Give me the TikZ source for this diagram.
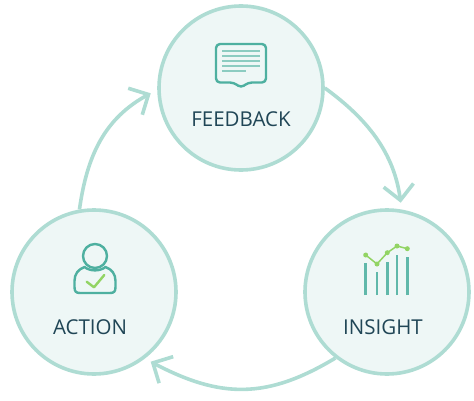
\documentclass[tikz,border=0pt]{standalone}
\usepackage{fontspec}
\setmainfont{Open Sans}
\usetikzlibrary{arrows.meta}
\pgfdeclarearrow{
  name=Vee,
  setup code={\pgfarrowssettipend{2.5pt}\pgfarrowssetlineend{0pt}\pgfarrowssetbackend{-15pt}\pgfarrowssetvisualbackend{0pt}},
  drawing code={\pgfsetdash{}{0pt}\pgfsetmiterjoin\pgfpathmoveto{\pgfqpoint{-15pt}{15pt}}\pgfpathlineto{\pgfpointorigin}\pgfpathlineto{\pgfqpoint{-15pt}{-15pt}}\pgfusepathqstroke}
}

\begin{document}
\begin{tikzpicture}[x=1pt, y=1pt, >=Vee,
  ringnode/.style={circle, draw=ring, fill=disc, line width=3.6pt, minimum size=164pt, inner sep=0pt},
  flow/.style={->, draw=ring, line width=3.6pt},
  head/.style={font=\fontsize{20.5}{22}\selectfont, text=label, inner sep=0pt},
  icon/.style={draw=teal, line width=2.4pt, line join=round, line cap=round},
  rowline/.style={draw=teal!65, line width=2pt},
  barline/.style={draw=teal!90, line width=2.6pt},
  dotmark/.style={circle, fill=leaf, inner sep=0pt, minimum size=5pt}]
\definecolor{ring}{RGB}{174,220,211}\definecolor{disc}{RGB}{238,247,246}
\definecolor{teal}{RGB}{78,176,160}\definecolor{leaf}{RGB}{146,212,100}\definecolor{label}{RGB}{32,70,86}
\useasboundingbox (0,0) rectangle (474,400);
% circles
\node[ringnode] (feedback) at (241,312) {};
\node[ringnode] (insight) at (387,108) {};
\node[ringnode] (action) at (94,108) {};
\node[head] (feedbacklabel) at (241,281) {FEEDBACK};
\node[head] (insightlabel) at (383,73) {INSIGHT};
\node[head] (actionlabel) at (90,73) {ACTION};
% ---- connectors
\coordinate (insighttip) at (400.7,197.3);
\coordinate (actiontip) at (150.7,38.3);
\coordinate (feedbacktip) at (150.7,306.7);
\draw[flow] (feedback.0) to[out=-36, in=97, looseness=0.95] (insighttip);
\draw[flow] (insight.232) to[out=211, in=-28, looseness=1.1] (actiontip);
\draw[flow] (action.100) to[out=82, in=208, looseness=1.0] (feedbacktip);
% ---- speech bubble
\draw[icon, rounded corners=4pt] (216,356) -- (266,356) -- (266,317.5) -- (248,317.5) -- (241,312) -- (234,317.5) -- (216,317.5) -- cycle;
\foreach \y in {349.3,344.3,339.3,334.3} {\draw[rowline] (222,\y) -- (260,\y);}
\draw[rowline] (222,329.3) -- (246,329.3);
% ---- bars and trend
\foreach \x/\t in {365.7/136.7, 377/127.7, 387.3/138.3, 397/145, 407.3/142.7} {\draw[barline] (\x,105) -- (\x,\t);}
\draw[draw=leaf, line width=1.5pt] (365.7,145) -- (377,136) -- (387.3,147.3) -- (397,154) -- (407.3,151.3);
\foreach \x/\t in {365.7/145, 377/136, 387.3/147.3, 397/154, 407.3/151.3} {\node[dotmark] at (\x,\t) {};}
% ---- person
\draw[icon] (95,144) circle (12);
\draw[icon] (84.5,133) .. controls (78,130.5) and (74.5,126) .. (74.5,119) -- (74.5,113) .. controls (74.5,108.5) and (76,107) .. (80,107) -- (110,107) .. controls (114,107) and (115.5,108.5) .. (115.5,113) -- (115.5,119) .. controls (115.5,126) and (112,130.5) .. (105.5,133) .. controls (100,128.5) and (90,128.5) .. (84.5,133) -- cycle;
\draw[draw=leaf, line width=2.4pt, line cap=round, line join=round] (86.7,118.3) -- (94,112.7) -- (104.3,125);
\end{tikzpicture}
\end{document}
